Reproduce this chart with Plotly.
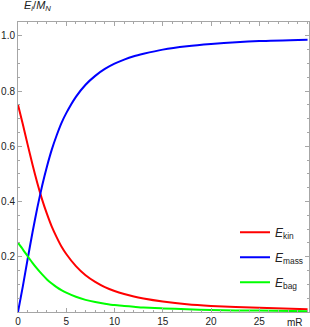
import plotly.graph_objects as go

# mR values (x axis)
mR = [0, 0.5, 1, 1.5, 2, 2.5, 3, 3.5, 4, 4.5, 5, 6, 7, 8, 9, 10, 11, 12, 13, 15,
      17.5, 20, 25, 30]
# energy fractions E_i / M_N
E_kin = [0.750, 0.680, 0.606, 0.534, 0.467, 0.407, 0.355, 0.309, 0.271, 0.237,
         0.210, 0.166, 0.133, 0.109, 0.090, 0.076, 0.065, 0.056, 0.049, 0.038,
         0.028, 0.022, 0.015, 0.010]
E_mass = [0.000, 0.093, 0.192, 0.288, 0.377, 0.457, 0.527, 0.588, 0.639, 0.684,
          0.720, 0.779, 0.823, 0.855, 0.880, 0.899, 0.914, 0.926, 0.935, 0.950,
          0.962, 0.970, 0.981, 0.986]
E_bag = [0.250, 0.227, 0.202, 0.178, 0.156, 0.136, 0.118, 0.103, 0.090, 0.079,
         0.070, 0.055, 0.044, 0.036, 0.030, 0.025, 0.022, 0.019, 0.016, 0.013,
         0.010, 0.007, 0.005, 0.003]

x_tickvals = [0, 5, 10, 15, 20, 25]
x_ticktext = ["0", "5", "10", "15", "20", "25"]
y_tickvals = [0.2, 0.4, 0.6, 0.8, 1.0]
y_ticktext = ["0.2", "0.4", "0.6", "0.8", "1.0"]

series = [
    ("<i>E</i><sub>kin</sub>", E_kin, "#ff0000"),
    ("<i>E</i><sub>mass</sub>", E_mass, "#0000ff"),
    ("<i>E</i><sub>bag</sub>", E_bag, "#00ff00"),
]

fig = go.Figure()
for i, (name, vals, color) in enumerate(series):
    fig.add_trace(go.Scatter(
        x=mR, y=vals, mode="lines", name=name,
        line=dict(color=color, width=2, shape="spline", smoothing=0.6),
        legendgroup=str(i),
    ))

frame = "#a6a6a6"
font = dict(family="Liberation Sans, Arial, sans-serif", size=10, color="#222222")

fig.update_layout(
    width=310, height=327,
    margin=dict(l=18, r=1, t=22, b=15, autoexpand=False),
    paper_bgcolor="white", plot_bgcolor="white",
    font=font,
    showlegend=True,
    legend=dict(
        x=1.0, y=0.325, xanchor="right", yanchor="top",
        bgcolor="rgba(0,0,0,0)", borderwidth=0,
        font=dict(family="Liberation Sans, Arial, sans-serif", size=12, color="#222222"),
        tracegroupgap=6, itemwidth=30,
    ),
    xaxis=dict(
        range=[0, 30.15], showgrid=False, zeroline=False, automargin=False,
        showline=True, linecolor=frame, linewidth=1, mirror="ticks",
        ticks="inside", ticklen=4, tickcolor=frame, tickwidth=1,
        tickvals=x_tickvals, ticktext=x_ticktext,
        minor=dict(ticks="inside", ticklen=2, tickcolor=frame, dtick=1, tick0=0),
    ),
    yaxis=dict(
        range=[0, 1.05], showgrid=False, zeroline=False, automargin=False,
        showline=True, linecolor=frame, linewidth=1, mirror="ticks",
        ticks="inside", ticklen=4, tickcolor=frame, tickwidth=1,
        tickvals=y_tickvals, ticktext=y_ticktext,
        minor=dict(ticks="inside", ticklen=2, tickcolor=frame, dtick=0.05, tick0=0),
    ),
    annotations=[
        dict(text="<i>E<sub>i</sub></i>/<i>M<sub>N</sub></i>", xref="paper", yref="paper",
             x=0.014, y=1.056, xanchor="left", yanchor="middle", showarrow=False,
             font=dict(family="Liberation Sans, Arial, sans-serif", size=11, color="#222222")),
        dict(text="mR", xref="paper", yref="paper",
             x=0.952, y=-0.01, xanchor="center", yanchor="top", showarrow=False,
             font=font),
    ],
)

fig.write_html(
    "out.html",
    config={"displayModeBar": False},
    post_script="document.body.style.margin='0';document.body.style.overflow='hidden';",
)
